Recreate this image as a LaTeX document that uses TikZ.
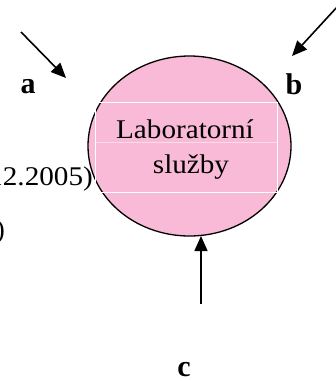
\documentclass[tikz,border=0pt]{standalone}
\usepackage{fontspec}
\setmainfont{Liberation Serif}
\usetikzlibrary{shapes.geometric,arrows.meta}
\definecolor{labpink}{RGB}{248,186,214}
\tikzset{
  flow/.style={line width=1.6pt,-{Triangle[length=15pt,width=13pt]}},
  letter/.style={inner sep=0pt,font=\fontsize{30}{32}\selectfont\bfseries},
  bodytext/.style={inner sep=0pt,font=\fontsize{27}{30}\selectfont},
}
\begin{document}
\begin{tikzpicture}[x=1pt,y=-1pt]
\useasboundingbox (0,0) rectangle (336,381);
\clip (0,0) rectangle (336,381);

% service bubble
\node[ellipse,draw,line width=1.3pt,fill=labpink,minimum width=203pt,minimum height=180pt,inner sep=0pt] (svc) at (189.5,146) {};
% text frame inside the bubble
\draw[white,line width=0.8pt] (95,102) rectangle (277,192);
\draw[white,opacity=0.5,line width=0.6pt] (95,142) -- (277,142);
\node[bodytext,anchor=base] (t1) at (185,138) {\scalebox{1.08}[1]{Laboratorní}};
\node[bodytext,anchor=base] (t2) at (191,173) {\scalebox{1.08}[1]{služby}};

% side text running off the left edge
\node[bodytext,anchor=base east] (date) at (93,185) {\scalebox{1.08}[1]{12.2005)}};
\node[bodytext,anchor=base east] (paren) at (5,238) {)};

% incoming arrows
\coordinate (aS) at (21,32);
\coordinate (aT) at (66,78);
\coordinate (bS) at (338,6);
\coordinate (bT) at (292,56);
\coordinate (cS) at (201,304);
\coordinate (cT) at (201,236);
\draw[flow] (aS) -- (aT);
\draw[flow] (bS) -- (bT);
\draw[flow] (cS) -- (cT);

\node[letter] (la) at (28,87) {a};
\node[letter] (lb) at (294,84) {b};
\node[letter] (lc) at (184,370) {c};
\end{tikzpicture}
\end{document}
